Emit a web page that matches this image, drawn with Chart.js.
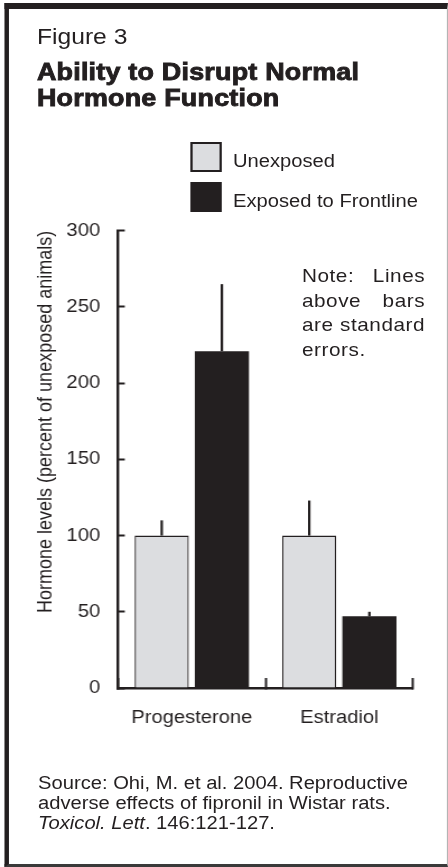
<!DOCTYPE html>
<html>
<head>
<meta charset="utf-8">
<script src="https://cdn.jsdelivr.net/npm/chart.js@4.4.1/dist/chart.umd.min.js"></script>
<style>
  html, body { margin: 0; padding: 0; background: #fff; overflow: hidden; }
  /* the reference is printed a little wide, so the whole page is drawn 400px wide and stretched */
  #page { position: relative; width: 400px; height: 867px; transform: scaleX(1.12); transform-origin: 0 0;
          font-family: 'Liberation Sans', Arial, sans-serif; color: #231f20; }
  #frame { position: absolute; left: 4px; top: 3px; width: 396px; height: 864px; box-sizing: border-box;
           border-left: 4.6px solid #231f20; border-top: 6px solid #231f20;
           border-right: 1px solid #b4b4b4; border-bottom: 3px solid #3a3a3a; }
  .txt { position: absolute; white-space: nowrap; }
  #fig { left: 33px; top: 26.4px; font-size: 22px; line-height: 22px; }
  #title { left: 33px; top: 58.7px; font-size: 24px; line-height: 26px; font-weight: bold;
           letter-spacing: 0.2px; -webkit-text-stroke: 0.9px #231f20; }
  .key { position: absolute; left: 169.6px; width: 28.6px; height: 30px; box-sizing: border-box; }
  .keyLabel { position: absolute; left: 208px; font-size: 18px; line-height: 18px; white-space: nowrap; }
  #note { left: 269.6px; top: 264.3px; width: 110px; font-size: 18.5px; line-height: 24.5px; letter-spacing: 0.5px; }
  #note div { text-align: justify; text-align-last: justify; }
  #note div:last-child { text-align-last: left; }
  #source { left: 34px; top: 772.8px; font-size: 18px; line-height: 20px; }
  #chart { position: absolute; left: 0; top: 198.2px; }
</style>
</head>
<body>
<div id="page">
  <div id="frame"></div>
  <div class="txt" id="fig">Figure 3</div>
  <div class="txt" id="title">Ability to Disrupt Normal<br>Hormone Function</div>
  <div id="legend"></div>
  <div class="txt" id="note">
    <div>Note: Lines</div>
    <div>above bars</div>
    <div>are standard</div>
    <div>errors.</div>
  </div>
  <canvas id="chart" width="400" height="552" style="width:400px;height:552px"></canvas>
  <div class="txt" id="source">Source: Ohi, M. et al. 2004. Reproductive<br>adverse effects of fipronil in Wistar rats.<br><i>Toxicol. Lett</i>. 146:121-127.</div>
</div>
<script>
const hormones = ['Progesterone', 'Estradiol'];
const seriesNames = ['Unexposed', 'Exposed to Frontline'];
const unexposed = [100, 100];
const unexposedErr = [10, 23];
const exposed = [221, 47];
const exposedErr = [44, 3];
const yMin = 0, yMax = 300, yStep = 50;

const ink = '#231f20';
const paleGrey = '#dcdde0';

Chart.defaults.font.family = "'Liberation Sans', Arial, sans-serif";
Chart.defaults.color = ink;

// standard error lines: a plain stroke up from the middle of each bar
const errorLines = {
  id: 'errorLines',
  afterDatasetsDraw(chart) {
    const ctx = chart.ctx;
    const yScale = chart.scales.y;
    chart.data.datasets.forEach((ds, i) => {
      chart.getDatasetMeta(i).data.forEach((bar, j) => {
        const top = yScale.getPixelForValue(ds.data[j] + ds.errors[j]);
        ctx.save();
        ctx.strokeStyle = ink;
        ctx.lineWidth = 2.2;
        ctx.beginPath();
        ctx.moveTo(bar.x, bar.y);
        ctx.lineTo(bar.x, top);
        ctx.stroke();
        ctx.restore();
      });
    });
  }
};

const chart = new Chart(document.getElementById('chart'), {
  type: 'bar',
  data: {
    labels: hormones,
    datasets: [
      {
        label: seriesNames[0],
        data: unexposed,
        errors: unexposedErr,
        backgroundColor: paleGrey,
        borderColor: ink,
        borderWidth: 1.3,
        categoryPercentage: 0.816,
        barPercentage: 0.9
      },
      {
        label: seriesNames[1],
        data: exposed,
        errors: exposedErr,
        backgroundColor: ink,
        borderWidth: 0,
        categoryPercentage: 0.816,
        barPercentage: 0.9
      }
    ]
  },
  options: {
    responsive: false,
    animation: false,
    devicePixelRatio: 1,
    // the y ticks ask for ~33px above the plot themselves, so no extra top padding here
    layout: { padding: { left: 0, right: 31.2, top: 0, bottom: 12 } },
    plugins: {
      legend: { display: false },
      tooltip: { enabled: false }
    },
    scales: {
      x: {
        z: 1,
        ticks: { padding: 29, color: ink, font: { size: 18 } },
        grid: { drawOnChartArea: false, tickLength: -10, tickWidth: 2, color: ink, offset: true },
        border: { display: true, color: ink, width: 2.5 },
        afterFit(s) { s.height = 50; }
      },
      y: {
        z: 1,
        min: yMin,
        max: yMax,
        ticks: { stepSize: yStep, padding: 22, color: ink, font: { size: 18 } },
        grid: { drawOnChartArea: false, tickLength: -6, tickWidth: 2, color: ink },
        border: { display: true, color: ink, width: 2.4 },
        title: {
          display: true,
          text: 'Hormone levels (percent of unexposed animals)',
          align: 'end',
          padding: { top: 30, bottom: 0 },
          color: ink,
          font: { size: 18 }
        },
        afterFit(s) { s.width = 105.4; }
      }
    }
  },
  plugins: [errorLines]
});

// legend stacked at the top right, built from the datasets
const legend = document.getElementById('legend');
const keyTops = [142, 182];
chart.data.datasets.forEach((ds, i) => {
  const box = document.createElement('div');
  box.className = 'key';
  box.style.top = keyTops[i] + 'px';
  box.style.background = ds.backgroundColor;
  if (i === 0) box.style.border = '2.7px solid ' + ink;
  legend.appendChild(box);
  const lab = document.createElement('div');
  lab.className = 'keyLabel';
  lab.style.top = (keyTops[i] + 9.5) + 'px';
  lab.textContent = ds.label;
  legend.appendChild(lab);
});
</script>
</body>
</html>
